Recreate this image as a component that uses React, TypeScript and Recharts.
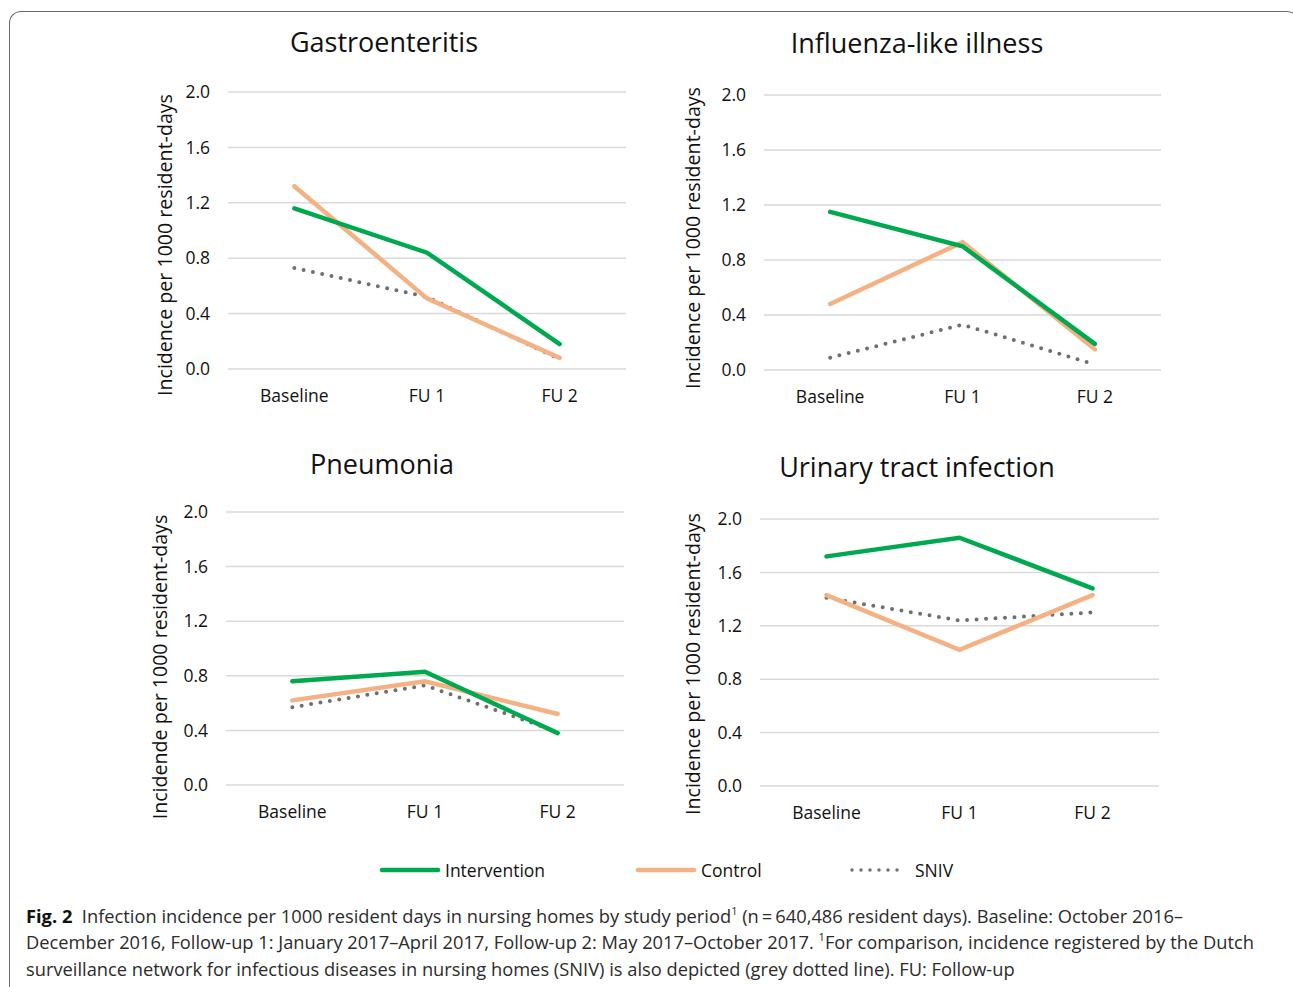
import React from 'react';
import { LineChart, Line, XAxis, YAxis, CartesianGrid } from 'recharts';

const categories = ['Baseline', 'FU 1', 'FU 2'];
const yTicks = [0, 0.4, 0.8, 1.2, 1.6, 2.0];

const gastroIntervention = [1.16, 0.84, 0.18];
const gastroControl = [1.32, 0.51, 0.08];
const gastroSniv = [0.73, 0.52, 0.07];

const fluIntervention = [1.15, 0.9, 0.19];
const fluControl = [0.48, 0.93, 0.15];
const fluSniv = [0.09, 0.33, 0.04];

const pneuIntervention = [0.76, 0.83, 0.38];
const pneuControl = [0.62, 0.76, 0.52];
const pneuSniv = [0.57, 0.73, 0.39];

const utiIntervention = [1.72, 1.86, 1.48];
const utiControl = [1.43, 1.02, 1.43];
const utiSniv = [1.41, 1.24, 1.3];

const GREEN = '#00A94F';
const ORANGE = '#F4B183';
const GREY = '#6F6F6F';
const FONT = '"Open Sans", "Noto Sans", sans-serif';

const build = (a: number[], b: number[], c: number[]) =>
  categories.map((p, i) => ({ period: p, intervention: a[i], control: b[i], sniv: c[i] }));

type PanelProps = {
  title: string;
  yLabel: string;
  data: any[];
  pl: number; pr: number; pt: number; pb: number;
  titleX: number; titleY: number;
  labelX: number; labelY: number;
};

function Panel(props: PanelProps) {
  const { title, yLabel, data, pl, pr, pt, pb, titleX, titleY, labelX, labelY } = props;
  const yAxisW = 60;
  const mTop = 20, mRight = 20, mBottom = 20, xAxisH = 40;
  const cw = pr - pl + yAxisW + mRight;
  const ch = pb - pt + mTop + xAxisH + mBottom;
  const pad = (pr - pl) / 6;
  return (
    <>
      <div style={{ position: 'absolute', left: titleX - 300, top: titleY - 20, width: 600, height: 40, lineHeight: '40px', textAlign: 'center', fontFamily: FONT, fontSize: 27, color: '#111' }}>{title}</div>
      <div style={{ position: 'absolute', left: labelX - 200, top: labelY - 12, width: 400, height: 24, lineHeight: '24px', textAlign: 'center', fontFamily: FONT, fontSize: 19.6, color: '#111', transform: 'rotate(-90deg)', transformOrigin: '200px 12px', whiteSpace: 'nowrap' }}>{yLabel}</div>
      <div style={{ position: 'absolute', left: pl - yAxisW, top: pt - mTop }}>
        <LineChart width={cw} height={ch} data={data} margin={{ top: mTop, right: mRight, left: 0, bottom: mBottom }}>
          <CartesianGrid vertical={false} stroke="#D9D9D9" strokeWidth={1.5} />
          <XAxis dataKey="period" axisLine={false} tickLine={false} height={xAxisH} tickMargin={15} padding={{ left: pad, right: pad }} tick={{ fill: '#111', fontSize: 17.5, fontFamily: FONT }} interval={0} />
          <YAxis width={yAxisW} domain={[0, 2]} ticks={yTicks} axisLine={false} tickLine={false} tickMargin={12} tickFormatter={(v: number) => v.toFixed(1)} tick={{ fill: '#111', fontSize: 17.5, fontFamily: FONT }} />
          <Line dataKey="sniv" stroke={GREY} strokeWidth={4} strokeDasharray="0 9.5" strokeLinecap="round" dot={false} isAnimationActive={false} />
          <Line dataKey="control" stroke={ORANGE} strokeWidth={4.5} strokeLinecap="round" dot={false} isAnimationActive={false} />
          <Line dataKey="intervention" stroke={GREEN} strokeWidth={4.5} strokeLinecap="round" dot={false} isAnimationActive={false} />
        </LineChart>
      </div>
    </>
  );
}

const capStyle: React.CSSProperties = { position: 'absolute', left: 26, fontFamily: FONT, fontSize: 18.3, color: '#2b2b2b', whiteSpace: 'nowrap', lineHeight: '26px', height: 26 };
const supStyle: React.CSSProperties = { fontSize: 11, verticalAlign: 'baseline', position: 'relative', top: -8, lineHeight: 0 };

export default function App() {
  return (
    <div style={{ position: 'absolute', left: 0, top: 0, width: 1293, height: 987, background: '#fff', overflow: 'hidden' }}>
      <div style={{ position: 'absolute', left: 9, top: 11, width: 1288, height: 1000, borderLeft: '1.5px solid #6a6a6a', borderTop: '1.5px solid #6a6a6a', borderRight: '1.5px solid #6a6a6a', borderTopLeftRadius: 12, borderTopRightRadius: 12 }} />
      <Panel title="Gastroenteritis" yLabel="Incidence per 1000 resident-days" data={build(gastroIntervention, gastroControl, gastroSniv)}
        pl={228} pr={626} pt={92} pb={369} titleX={384} titleY={42} labelX={165} labelY={245} />
      <Panel title="Influenza-like illness" yLabel="Incidence per 1000 resident-days" data={build(fluIntervention, fluControl, fluSniv)}
        pl={764} pr={1161} pt={95} pb={370} titleX={917} titleY={43} labelX={693} labelY={238} />
      <Panel title="Pneumonia" yLabel="Incidende per 1000 resident-days" data={build(pneuIntervention, pneuControl, pneuSniv)}
        pl={226} pr={624} pt={512} pb={785} titleX={382} titleY={464} labelX={160} labelY={667} />
      <Panel title="Urinary tract infection" yLabel="Incidence per 1000 resident-days" data={build(utiIntervention, utiControl, utiSniv)}
        pl={760} pr={1159} pt={519} pb={786} titleX={917} titleY={467} labelX={693} labelY={664} />

      <svg style={{ position: 'absolute', left: 0, top: 855 }} width={1293} height={30}>
        <line x1={382} y1={15} x2={438} y2={15} stroke={GREEN} strokeWidth={4.5} strokeLinecap="round" />
        <line x1={638} y1={15} x2={694} y2={15} stroke={ORANGE} strokeWidth={4.5} strokeLinecap="round" />
        <line x1={852} y1={15} x2={906} y2={15} stroke={GREY} strokeWidth={3.5} strokeDasharray="0 9" strokeLinecap="round" />
      </svg>
      <div style={{ position: 'absolute', left: 445, top: 858, fontFamily: FONT, fontSize: 17.5, lineHeight: '24px', color: '#111' }}>Intervention</div>
      <div style={{ position: 'absolute', left: 701, top: 858, fontFamily: FONT, fontSize: 17.5, lineHeight: '24px', color: '#111' }}>Control</div>
      <div style={{ position: 'absolute', left: 915, top: 858, fontFamily: FONT, fontSize: 17.5, lineHeight: '24px', color: '#111' }}>SNIV</div>

      <div style={{ ...capStyle, top: 903 }}><b style={{ color: '#111' }}>Fig. 2</b>&nbsp;&nbsp;Infection incidence per 1000 resident days in nursing homes by study period<span style={supStyle}>1</span> (n&thinsp;=&thinsp;640,486 resident days). Baseline: October 2016–</div>
      <div style={{ ...capStyle, top: 929 }}>December 2016, Follow-up 1: January 2017–April 2017, Follow-up 2: May 2017–October 2017. <span style={supStyle}>1</span>For comparison, incidence registered by the Dutch</div>
      <div style={{ ...capStyle, top: 956 }}>surveillance network for infectious diseases in nursing homes (SNIV) is also depicted (grey dotted line). FU: Follow-up</div>
    </div>
  );
}
